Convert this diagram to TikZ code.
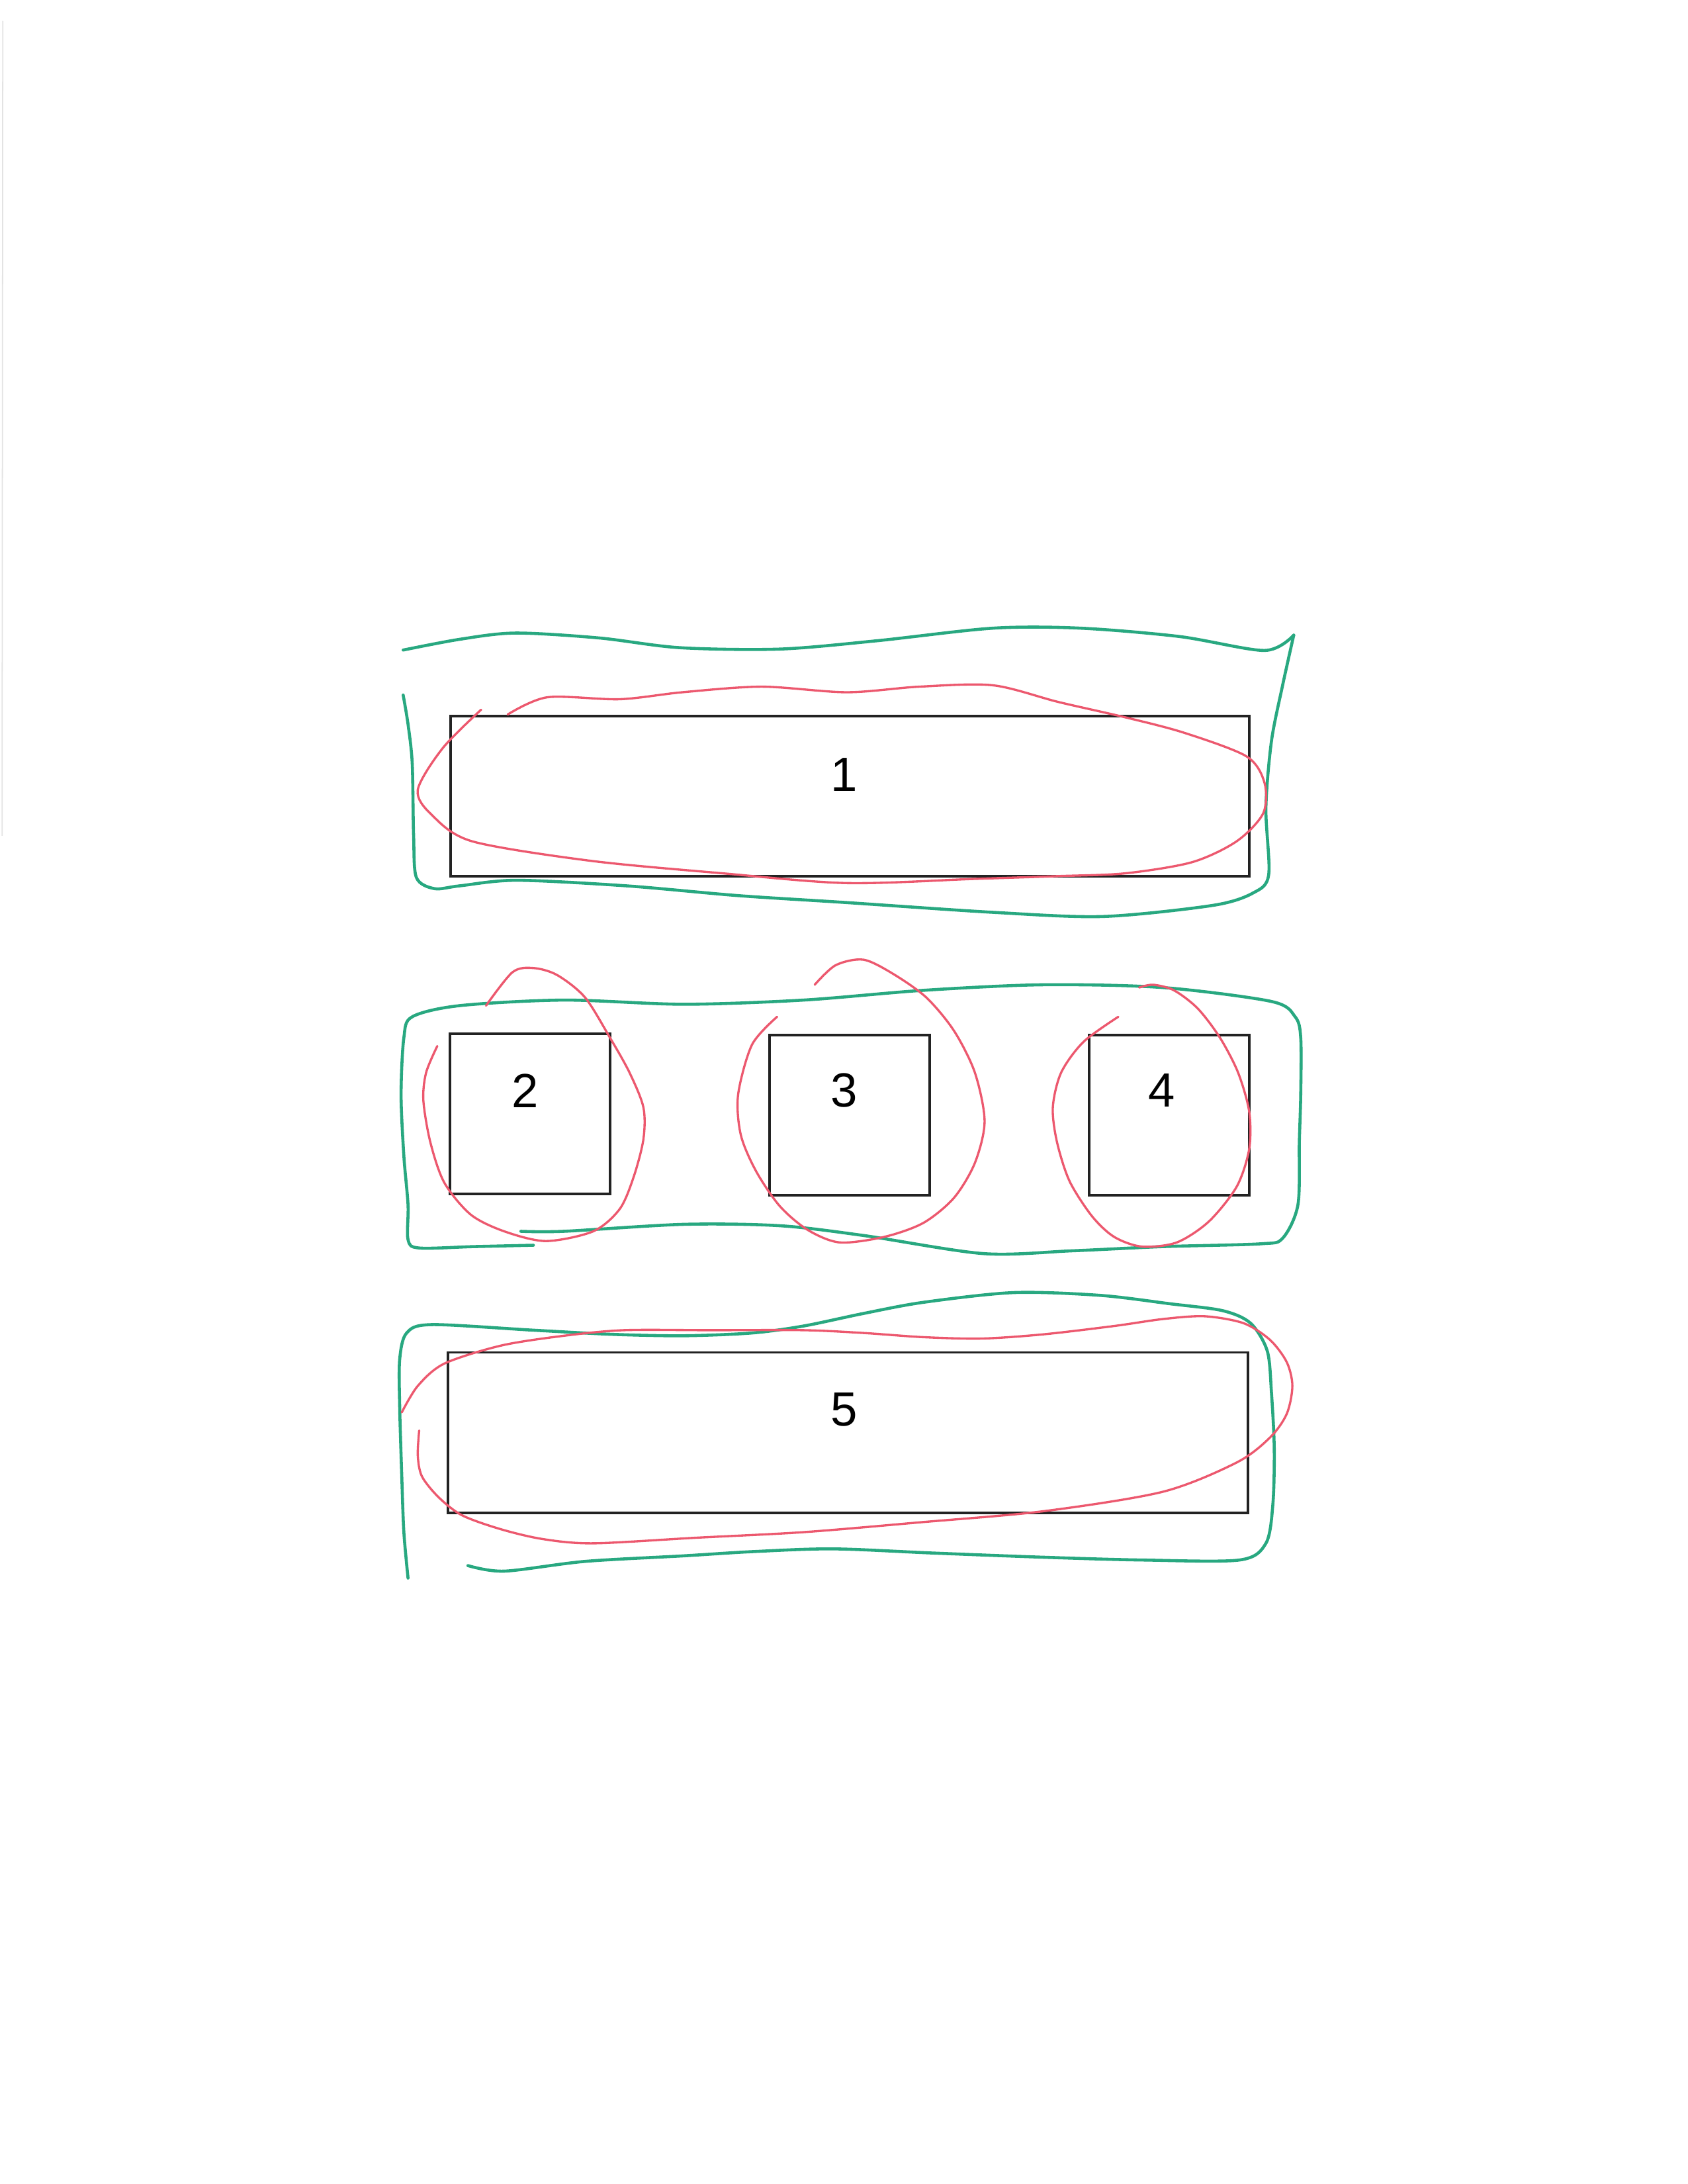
\documentclass[tikz,border=0pt]{standalone}
\usepackage{fontspec}
\setmainfont{Liberation Sans}
\definecolor{pengreen}{RGB}{40,168,128}
\definecolor{penred}{RGB}{236,88,110}
\definecolor{boxline}{RGB}{34,34,34}
\begin{document}
\begin{tikzpicture}[x=0.021cm,y=-0.021cm,
  boxnode/.style={draw=boxline, line width=1.1pt, rectangle, inner sep=0pt, minimum height=2.415cm},
  widebox/.style={boxnode, minimum width=12.04cm},
  squarebox/.style={boxnode, minimum width=2.415cm},
  labtext/.style={inner sep=0pt, font=\fontsize{20.6}{24}\selectfont},
  greenpen/.style={draw=pengreen, line width=1.3pt, line cap=round, line join=round},
  redpen/.style={draw=penred, line width=0.95pt, line cap=round, line join=round}]
\useasboundingbox (0,0) rectangle (1212,1568);
% scan edge
\draw[gray!22, line width=0.5pt] (2,15) -- (1.5,600);

% boxes
\node[widebox] (box1) at (610.5,571.5) {};
\node[squarebox] (box2) at (380.5,799.5) {};
\node[squarebox] (box3) at (610,800.5) {};
\node[squarebox] (box4) at (839.5,800.5) {};
\node[widebox, minimum width=12.06cm] (box5) at (609,1028.5) {};

\node[labtext] (lab1) at (606,556) {1};
\node[labtext] (lab2) at (377,783) {2};
\node[labtext] (lab3) at (606,783) {3};
\node[labtext] (lab4) at (834,783) {4};
\node[labtext] (lab5) at (606,1012) {5};

% group 1 green
\draw[greenpen] plot[smooth] coordinates {(289.5,466.7) (330,459) (370,454.5) (430,458) (488,465) (560,466) (630,460) (713,451) (776,451) (847,457) (908,467) (929,456)};
\draw[greenpen] plot[smooth] coordinates {(929,456) (921,492) (913,532) (909,580) (911,628) (900,641) (871,650) (792,658) (713,655) (608,648) (530,643) (450,636) (371,632) (330,636) (312,638) (299,630) (297,600) (296,548) (293,520) (289.5,499)};
% group 1 red
\draw[redpen] plot[smooth] coordinates {(345.5,509.5) (318,537) (300,567) (310,585) (339,604) (424,618) (519,627) (608,634) (700,631) (760,629) (808,627) (856,619) (888,604) (907,584) (908,562) (895,543) (850,526) (808,515) (760,504) (713,492) (660,493) (608,497) (547,493) (490,497) (445,502) (393,500.6) (364.5,513)};

% group 2 green
\draw[greenpen] plot[smooth] coordinates {(374,884) (405,884) (491,879) (560,880) (620,887) (706,900) (770,898) (835,895) (905,893) (921,889) (932,865) (933,820) (934,786) (934,745) (930,730) (913,719) (835,709) (749,707) (663,711) (577,718) (491,721) (405,718) (330,722) (296,730) (290,745) (288,786) (290,830) (293,865) (293,890) (301,896) (340,895) (383,894)};
% group 2 red loops
\draw[redpen] plot[smooth] coordinates {(314,751) (306,770) (304,790) (309,820) (319,849) (338,872) (362,884) (392,891) (426,884) (445,868) (455,845) (462,818) (462,795) (452,770) (438,745) (420,716) (400,700) (383,695) (368,698) (349,722)};
\draw[redpen] plot[smooth] coordinates {(558,730) (540,750) (530,786) (532,815) (543,841) (560,866) (580,883) (603,892) (635,888) (663,878) (685,860) (700,835) (707,805) (700,770) (685,740) (665,716) (641,699) (620,689) (600,693) (585,707)};
\draw[redpen] plot[smooth] coordinates {(803,730) (778,748) (762,770) (756,795) (759,820) (768,848) (784,873) (800,888) (820,895) (845,892) (868,877) (888,852) (897,825) (897,798) (889,770) (876,745) (860,724) (843,711) (828,707) (818,709)};

% group 3 green
\draw[greenpen] plot[smooth] coordinates {(293,1133) (290,1100) (288.5,1060) (287,1010) (287,976) (292,957) (310,951) (383,955) (440,958) (491,959) (540,957) (577,952) (620,943) (663,935) (728,928) (790,930) (840,936) (878,941) (898,950) (910,970) (913,1000) (915,1040) (914,1080) (909,1108) (890,1120) (820,1120) (749,1118) (670,1115) (598,1112) (540,1114) (491,1117) (420,1121) (362,1128) (336,1124)};
% group 3 red
\draw[redpen] plot[smooth] coordinates {(288.5,1014) (300,995) (319,979) (360,966) (405,959) (448,955) (510,955) (577,955) (620,957) (663,960) (705,961) (749,958) (800,952) (835,947) (865,945) (893,950) (912,962) (924,978) (928,995) (924,1015) (912,1032) (888,1050) (835,1071) (749,1085) (660,1093) (577,1100) (500,1104) (426,1108) (390,1105) (360,1098) (332,1088) (315,1075) (303,1060) (300,1045) (301,1027)};
\end{tikzpicture}
\end{document}
